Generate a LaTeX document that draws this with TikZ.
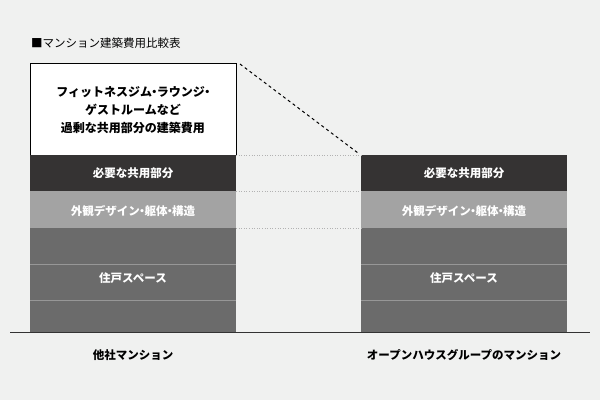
\documentclass[tikz,border=0pt]{standalone}
\usepackage{fontspec}
\setmainfont{Noto Sans CJK JP}
\newfontfamily\heavy{Noto Sans CJK JP Black}
\newcommand{\dt}{\kern-0.3em・\kern-0.3em}
\definecolor{bg}{HTML}{F0F1F0}
\definecolor{topdark}{HTML}{353333}
\definecolor{midgray}{HTML}{A3A3A3}
\definecolor{lowgray}{HTML}{6B6B6B}
\tikzset{
  barlabel/.style={font=\heavy\fontsize{11.5}{13}\selectfont, text=white},
  sepline/.style={draw=lowgray!70!white, line width=0.6pt},
  guide/.style={draw=gray!60, dotted, line width=0.6pt}
}
\begin{document}
\begin{tikzpicture}[x=1pt,y=-1pt]
\useasboundingbox[fill=bg] (0,0) rectangle (600,400);
\node[anchor=west, font=\fontsize{11.5}{13}\selectfont, inner sep=0pt] (title) at (31,43) {■マンション建築費用比較表};
% left bar
\draw[fill=white, line width=1pt] (30,63) rectangle (236,155);
\node[font=\heavy\fontsize{12}{18}\selectfont, align=center] (extra) at (133,110)
  {フィットネスジム\dt ラウンジ\dt\\ゲストルームなど\\過剰な共用部分の建築費用};
\fill[topdark] (30,155) rectangle (236,191);
\fill[midgray] (30,191) rectangle (236,228);
\fill[lowgray] (30,228) rectangle (236,332);
\draw[sepline] (30,264) -- (236,264) (30,300) -- (236,300);
\node[barlabel] (lcommon) at (133,173) {必要な共用部分};
\node[barlabel] (lstruct) at (133,211) {外観デザイン\dt 躯体\dt 構造};
\node[barlabel] (lunit) at (133,278) {住戸スペース};
% right bar
\fill[topdark] (361,155) rectangle (567,191);
\fill[midgray] (361,191) rectangle (567,228);
\fill[lowgray] (361,228) rectangle (567,332);
\draw[sepline] (361,264) -- (567,264) (361,300) -- (567,300);
\node[barlabel] (rcommon) at (464,173) {必要な共用部分};
\node[barlabel] (rstruct) at (464,211) {外観デザイン\dt 躯体\dt 構造};
\node[barlabel] (runit) at (464,278) {住戸スペース};
% guides
\draw[guide] (236,155) -- (361,155);
\draw[guide] (236,191) -- (361,191);
\draw[guide] (236,228) -- (361,228);
\draw[dashed, line width=1pt] (240,64) -- (358,153);
% axis
\draw[line width=1pt, black!80] (10,332) -- (590,332);
\node[font=\heavy\fontsize{11.5}{13}\selectfont] (lname) at (133,355) {他社マンション};
\node[font=\heavy\fontsize{11.5}{13}\selectfont] (rname) at (464,355) {オープンハウスグループのマンション};
\end{tikzpicture}
\end{document}
